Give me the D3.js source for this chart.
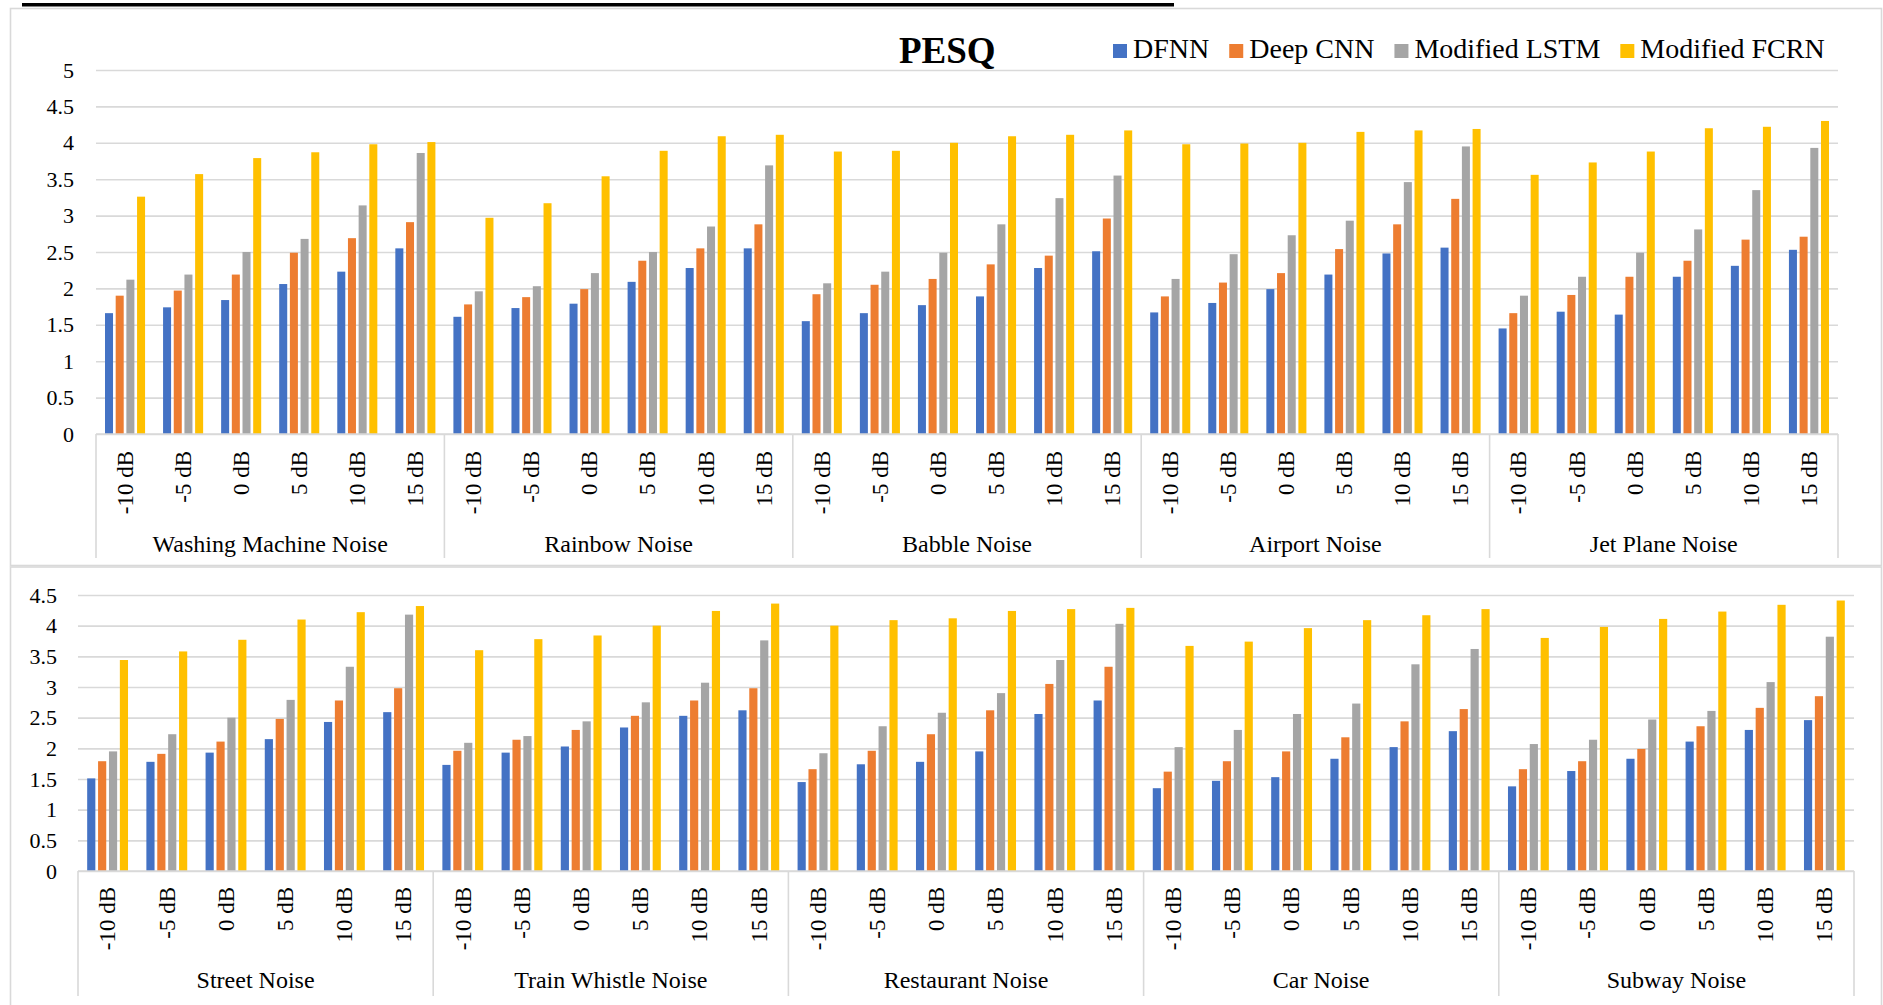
<!DOCTYPE html>
<html>
<head>
<meta charset="utf-8">
<script src="https://cdn.jsdelivr.net/npm/d3@7"></script>
<style>
  html, body { margin: 0; padding: 0; background: #fff; }
  svg { display: block; }
  text { font-family: "Liberation Serif", "Times New Roman", serif; fill: #000; }
</style>
</head>
<body>
<script>
// ---- data ----
const snrLevels = ["-10 dB", "-5 dB", "0 dB", "5 dB", "10 dB", "15 dB"];
const seriesNames = ["DFNN", "Deep CNN", "Modified LSTM", "Modified FCRN"];

const topNoises = ["Washing Machine Noise", "Rainbow Noise", "Babble Noise", "Airport Noise", "Jet Plane Noise"];
const bottomNoises = ["Street Noise", "Train Whistle Noise", "Restaurant Noise", "Car Noise", "Subway Noise"];

const topTicks = [0, 0.5, 1, 1.5, 2, 2.5, 3, 3.5, 4, 4.5, 5];
const bottomTicks = [0, 0.5, 1, 1.5, 2, 2.5, 3, 3.5, 4, 4.5];

// PESQ scores, ordered noise by noise, SNR -10 .. 15 dB
const dfnnTop = [1.66, 1.74, 1.84, 2.06, 2.23, 2.55, 1.61, 1.73, 1.79, 2.09, 2.28, 2.55, 1.55, 1.66, 1.77, 1.89, 2.28, 2.51, 1.67, 1.80, 1.99, 2.19, 2.48, 2.56, 1.45, 1.68, 1.64, 2.16, 2.31, 2.53];
const cnnTop = [1.90, 1.97, 2.19, 2.49, 2.69, 2.91, 1.78, 1.88, 1.99, 2.38, 2.55, 2.88, 1.92, 2.05, 2.13, 2.33, 2.45, 2.96, 1.89, 2.08, 2.21, 2.54, 2.88, 3.23, 1.66, 1.91, 2.16, 2.38, 2.67, 2.71];
const lstmTop = [2.12, 2.19, 2.50, 2.68, 3.14, 3.86, 1.96, 2.03, 2.21, 2.50, 2.85, 3.69, 2.07, 2.23, 2.49, 2.88, 3.24, 3.55, 2.13, 2.47, 2.73, 2.93, 3.46, 3.95, 1.90, 2.16, 2.49, 2.81, 3.35, 3.93];
const fcrnTop = [3.26, 3.57, 3.79, 3.87, 3.98, 4.01, 2.97, 3.17, 3.54, 3.89, 4.09, 4.11, 3.88, 3.89, 4.00, 4.09, 4.11, 4.17, 3.98, 3.99, 4.00, 4.15, 4.17, 4.19, 3.56, 3.73, 3.88, 4.20, 4.22, 4.30];

const dfnnBottom = [1.51, 1.78, 1.93, 2.15, 2.43, 2.59, 1.73, 1.93, 2.03, 2.34, 2.53, 2.62, 1.45, 1.74, 1.78, 1.95, 2.56, 2.78, 1.35, 1.47, 1.53, 1.83, 2.02, 2.28, 1.38, 1.63, 1.83, 2.11, 2.30, 2.46];
const cnnBottom = [1.79, 1.91, 2.11, 2.48, 2.78, 2.98, 1.96, 2.14, 2.30, 2.53, 2.78, 2.98, 1.66, 1.96, 2.23, 2.62, 3.05, 3.33, 1.62, 1.79, 1.95, 2.18, 2.44, 2.64, 1.66, 1.79, 1.99, 2.36, 2.66, 2.85];
const lstmBottom = [1.95, 2.23, 2.50, 2.79, 3.33, 4.18, 2.09, 2.20, 2.44, 2.75, 3.07, 3.76, 1.92, 2.36, 2.58, 2.90, 3.44, 4.03, 2.02, 2.30, 2.56, 2.73, 3.37, 3.62, 2.07, 2.14, 2.47, 2.61, 3.08, 3.82];
const fcrnBottom = [3.44, 3.58, 3.77, 4.10, 4.22, 4.32, 3.60, 3.78, 3.84, 4.00, 4.24, 4.36, 4.00, 4.09, 4.12, 4.24, 4.27, 4.29, 3.67, 3.74, 3.96, 4.09, 4.17, 4.27, 3.80, 3.98, 4.11, 4.23, 4.34, 4.41];

// ---- styling ----
const seriesColors = ["#4472C4", "#ED7D31", "#A5A5A5", "#FFC000"];
const gridColor = "#D9D9D9";

const W = 1883, H = 1005;
const svg = d3.select("body").append("svg").attr("width", W).attr("height", H);
svg.append("rect").attr("width", W).attr("height", H).attr("fill", "#fff");

// Chart frames
svg.append("rect").attr("x", 10.5).attr("y", 8.5).attr("width", 1871).attr("height", 557)
  .attr("fill", "none").attr("stroke", gridColor).attr("stroke-width", 1.6);
svg.append("rect").attr("x", 10.5).attr("y", 567).attr("width", 1871).attr("height", 460)
  .attr("fill", "none").attr("stroke", gridColor).attr("stroke-width", 1.6);

// heavy rule along the top edge
svg.append("line").attr("x1", 22).attr("x2", 1174).attr("y1", 4.8).attr("y2", 4.8)
  .attr("stroke", "#000").attr("stroke-width", 3.4);

function drawPanel(cfg) {
  const g = svg.append("g");
  const keys = [];
  cfg.noises.forEach(n => snrLevels.forEach(s => keys.push(n + "|" + s)));

  const x0 = d3.scaleBand().domain(keys).range([cfg.left, cfg.right]).padding(0);
  const cw = x0.bandwidth();
  const x1 = d3.scaleBand().domain(seriesNames).range([cw * 0.155, cw * 0.845]).paddingInner(0.25).paddingOuter(0);
  const y = d3.scaleLinear().domain([0, cfg.max]).range([cfg.bottom, cfg.top]);

  // gridlines + value labels
  const yAxis = d3.axisLeft(y).tickValues(cfg.ticks).tickFormat(d3.format("~g"))
    .tickSize(-(cfg.right - cfg.left)).tickPadding(cfg.labelPad);
  const ya = g.append("g").attr("transform", `translate(${cfg.left},0)`).call(yAxis);
  ya.select(".domain").remove();
  ya.selectAll(".tick line").attr("stroke", gridColor).attr("stroke-width", 1.6);
  ya.selectAll(".tick text").attr("font-size", 22).attr("font-family", "Liberation Serif, Times New Roman, serif").attr("fill", "#000");

  // bars
  const series = cfg.values.map((vals, i) => ({ name: seriesNames[i], vals }));
  const grp = g.append("g").selectAll("g").data(keys).join("g")
    .attr("transform", d => `translate(${x0(d)},0)`);
  grp.selectAll("rect").data((k, ki) => series.map(s => ({ name: s.name, v: s.vals[ki] })))
    .join("rect")
    .attr("x", d => x1(d.name))
    .attr("width", x1.bandwidth())
    .attr("y", d => y(d.v))
    .attr("height", d => y(0) - y(d.v))
    .attr("fill", d => seriesColors[seriesNames.indexOf(d.name)]);

  // category axis line
  g.append("line").attr("x1", cfg.left).attr("x2", cfg.right).attr("y1", y(0)).attr("y2", y(0))
    .attr("stroke", gridColor).attr("stroke-width", 1.6);

  // SNR labels (rotated)
  g.append("g").selectAll("text").data(keys).join("text")
    .attr("transform", d => `translate(${x0(d) + cw / 2},${y(0) + cfg.snrGap}) rotate(-90)`)
    .attr("text-anchor", "end")
    .attr("dy", "0.34em")
    .attr("font-size", 23)
    .text(d => d.split("|")[1]);

  // noise group separators and names
  const groupW = cw * snrLevels.length;
  const seps = d3.range(cfg.noises.length + 1).map(i => cfg.left + i * groupW);
  g.append("g").selectAll("line").data(seps).join("line")
    .attr("x1", d => d).attr("x2", d => d)
    .attr("y1", y(0)).attr("y2", cfg.sepBottom)
    .attr("stroke", gridColor).attr("stroke-width", 1.6);
  g.append("g").selectAll("text").data(cfg.noises).join("text")
    .attr("x", (d, i) => cfg.left + (i + 0.5) * groupW)
    .attr("y", cfg.groupBaseline)
    .attr("text-anchor", "middle")
    .attr("font-size", 24)
    .text(d => d);
}

drawPanel({
  noises: topNoises, values: [dfnnTop, cnnTop, lstmTop, fcrnTop],
  ticks: topTicks, max: 5,
  left: 96, right: 1838, top: 70, bottom: 434,
  labelPad: 22, snrGap: 17, sepBottom: 558, groupBaseline: 552
});

drawPanel({
  noises: bottomNoises, values: [dfnnBottom, cnnBottom, lstmBottom, fcrnBottom],
  ticks: bottomTicks, max: 4.5,
  left: 78, right: 1854, top: 595, bottom: 871,
  labelPad: 21, snrGap: 16, sepBottom: 996, groupBaseline: 988
});

// title
svg.append("text").attr("x", 899).attr("y", 63)
  .attr("font-size", 37).attr("font-weight", "bold").text("PESQ");

// legend
const legend = svg.append("g");
let lx = 1113;
seriesNames.forEach((name, i) => {
  legend.append("rect").attr("x", lx).attr("y", 44).attr("width", 14).attr("height", 14)
    .attr("fill", seriesColors[i]);
  const t = legend.append("text").attr("x", lx + 20).attr("y", 58)
    .attr("font-size", 28).text(name);
  lx += 20 + t.node().getComputedTextLength() + 20;
});
</script>
</body>
</html>
